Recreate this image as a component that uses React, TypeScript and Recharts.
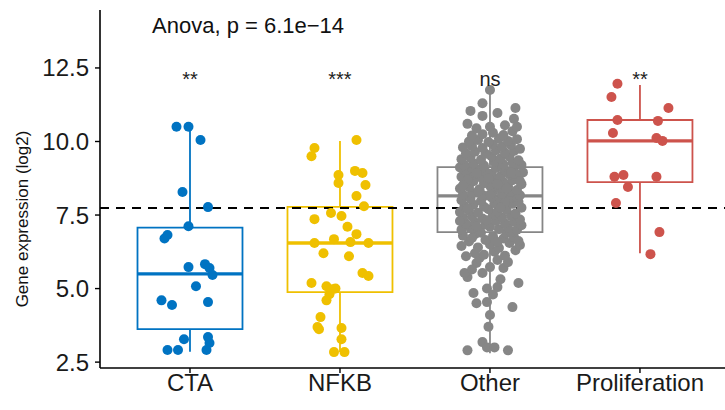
import React from "react";
import { ScatterChart, Scatter, XAxis, YAxis, ReferenceArea, ReferenceLine } from "recharts";

const categories = ["CTA", "NFKB", "Other", "Proliferation"];
const colors = ["#0073C2", "#EFC000", "#868686", "#CD534C"];

// box statistics per group
const q1 = [3.62, 4.88, 6.92, 8.62];
const median = [5.5, 6.55, 8.15, 10.02];
const q3 = [7.07, 7.78, 9.13, 10.73];
const whiskerLow = [2.85, 2.84, 2.8, 6.2];
const whiskerHigh = [10.5, 10.02, 11.75, 11.92];

const signif = ["**", "***", "ns", "**"];
const anovaLabel = "Anova, p = 6.1e\u221214";
const refLevel = 7.74;
const yTicks = [2.5, 5, 7.5, 10, 12.5];

// jittered points: [x offset from group centre, value]
const ctaPoints = [
  [-0.09, 10.5], [-0.01, 10.5], [0.07, 10.05], [-0.05, 8.28], [0.12, 7.77], [-0.01, 7.12],
  [-0.17, 6.7], [-0.15, 6.82], [-0.01, 5.73], [0.1, 5.83], [0.13, 5.7], [0.15, 5.46],
  [0.04, 5.08], [-0.19, 4.6], [-0.12, 4.44], [0.12, 4.54], [-0.04, 3.28], [0.12, 3.35],
  [0.13, 3.15], [0.11, 2.91], [-0.15, 2.91], [-0.08, 2.91],
];

const nfkbPoints = [
  [-0.17, 9.78], [-0.19, 9.5], [0.11, 10.05], [-0.01, 8.86], [-0.01, 8.59], [0.1, 9.0],
  [0.15, 8.93], [0.17, 8.52], [0.11, 8.15], [0.16, 7.8], [-0.17, 7.36], [-0.06, 7.57],
  [0.01, 7.47], [0.05, 7.1], [0.11, 6.85], [-0.17, 6.55], [-0.04, 6.68], [0.07, 6.58],
  [0.19, 6.55], [-0.11, 6.2], [0.06, 6.1], [0.15, 5.53], [0.19, 5.43], [-0.19, 5.19],
  [-0.09, 5.08], [-0.05, 4.98], [-0.03, 5.0], [-0.07, 4.81], [-0.09, 4.6], [-0.13, 4.03],
  [-0.15, 3.69], [-0.14, 3.62], [0.01, 3.66], [0.01, 3.28], [-0.04, 2.84], [0.03, 2.84],
];

const otherPoints = [
  [-0.15, 2.9], [-0.05, 3.18], [-0.02, 3.0], [0.03, 3.0], [0.12, 2.9], [-0.01, 3.7], [0.0, 4.1],
  [0.15, 4.37], [-0.09, 4.5], [-0.02, 4.54], [-0.11, 4.85], [-0.02, 5.0], [0.05, 5.05], [0.19, 5.19],
  [-0.15, 5.39], [-0.05, 5.53], [0.07, 5.32], [-0.09, 5.87], [0.0, 5.73], [0.09, 5.7], [-0.17, 5.53],
  [0.05, 5.97], [-0.07, 6.04], [0.12, 5.9], [-0.12, 5.65], [0.02, 4.8],
  [-0.16, 6.1], [-0.1, 6.2], [-0.04, 6.15], [0.03, 6.25], [0.1, 6.12], [0.17, 6.3], [-0.19, 6.45],
  [-0.08, 6.4], [0.0, 6.5], [0.06, 6.38], [0.13, 6.55], [0.2, 6.48], [-0.14, 6.6], [-0.03, 6.65],
  [0.09, 6.7], [0.16, 6.75], [-0.18, 6.8], [-0.1, 6.85], [0.02, 6.78], [0.11, 6.88], [0.19, 6.62],
  [-0.06, 6.9], [0.05, 6.58], [-0.12, 6.72], [0.14, 6.92],
  [-0.19, 7.0], [-0.13, 7.05], [-0.07, 6.98], [0.0, 7.1], [0.06, 7.02], [0.12, 7.08], [0.18, 7.0],
  [-0.16, 7.2], [-0.1, 7.25], [-0.03, 7.18], [0.04, 7.3], [0.1, 7.22], [0.16, 7.28], [0.21, 7.15],
  [-0.18, 7.4], [-0.12, 7.45], [-0.05, 7.38], [0.02, 7.5], [0.08, 7.42], [0.14, 7.48], [0.2, 7.35],
  [-0.2, 7.6], [-0.14, 7.65], [-0.08, 7.58], [-0.01, 7.7], [0.05, 7.62], [0.11, 7.68], [0.17, 7.55],
  [-0.17, 7.8], [-0.11, 7.85], [-0.04, 7.78], [0.03, 7.9], [0.09, 7.82], [0.15, 7.88], [0.21, 7.75],
  [-0.19, 8.0], [-0.13, 8.05], [-0.06, 7.98], [0.01, 8.1], [0.07, 8.02], [0.13, 8.08], [0.19, 7.95],
  [-0.15, 7.72], [-0.02, 7.32], [0.1, 7.92], [-0.09, 7.12], [0.07, 7.75], [-0.2, 7.3], [0.18, 8.12],
  [-0.04, 8.14],
  [-0.18, 8.2], [-0.12, 8.25], [-0.05, 8.18], [0.02, 8.3], [0.08, 8.22], [0.14, 8.28], [0.2, 8.17],
  [-0.2, 8.4], [-0.14, 8.45], [-0.07, 8.38], [0.0, 8.5], [0.06, 8.42], [0.12, 8.48], [0.18, 8.35],
  [-0.17, 8.6], [-0.11, 8.65], [-0.04, 8.58], [0.03, 8.7], [0.09, 8.62], [0.15, 8.68], [0.21, 8.55],
  [-0.19, 8.8], [-0.13, 8.85], [-0.06, 8.78], [0.01, 8.9], [0.07, 8.82], [0.13, 8.88], [0.19, 8.75],
  [-0.16, 9.0], [-0.1, 9.05], [-0.03, 8.98], [0.04, 9.1], [0.1, 9.02], [0.16, 9.08], [-0.2, 9.12],
  [0.22, 8.95], [-0.08, 8.3], [0.05, 8.55], [-0.15, 8.7], [0.11, 8.4], [-0.01, 8.75], [0.17, 8.9],
  [-0.12, 9.1], [0.08, 9.12], [-0.18, 8.5], [0.2, 8.65], [-0.06, 9.08], [0.0, 8.2], [0.14, 8.95],
  [-0.09, 8.92],
  [-0.17, 9.2], [-0.11, 9.25], [-0.04, 9.18], [0.03, 9.3], [0.09, 9.22], [0.15, 9.28], [0.21, 9.2],
  [-0.19, 9.4], [-0.13, 9.45], [-0.06, 9.38], [0.01, 9.5], [0.07, 9.42], [0.13, 9.48], [0.19, 9.36],
  [-0.16, 9.6], [-0.1, 9.65], [-0.03, 9.58], [0.04, 9.7], [0.1, 9.62], [0.16, 9.68], [-0.18, 9.8],
  [-0.12, 9.85], [-0.05, 9.78], [0.02, 9.9], [0.08, 9.82], [0.14, 9.88], [0.2, 9.75], [-0.14, 10.0],
  [-0.08, 10.05], [-0.01, 9.98], [0.06, 10.1], [0.12, 10.02], [0.18, 10.08], [-0.12, 10.2],
  [-0.05, 10.25], [0.02, 10.3], [0.09, 10.22], [0.15, 10.35], [-0.09, 10.45], [0.0, 10.5],
  [0.1, 10.55], [0.18, 10.5], [0.16, 10.77], [-0.05, 10.87], [0.05, 10.97], [-0.13, 11.04],
  [0.17, 11.14], [-0.05, 11.3], [0.0, 11.75], [-0.15, 10.6],
];

const prolifPoints = [
  [-0.15, 11.96], [-0.19, 11.51], [0.19, 11.14], [-0.15, 10.73], [0.12, 10.7], [-0.18, 10.29],
  [0.11, 10.12], [0.15, 10.02], [-0.17, 8.8], [-0.11, 8.86], [0.11, 8.8], [-0.08, 8.45],
  [-0.16, 7.91], [0.13, 6.92], [0.07, 6.17],
];

const groups = [ctaPoints, nfkbPoints, otherPoints, prolifPoints];
const boxHalf = 0.35;
const font = "'Liberation Sans', Arial, sans-serif";

const sigData = categories.map((c, i) => ({ x: i + 1, y: 11.87, t: signif[i] }));
const anovaData = [{ x: 0.747, y: 13.69, t: anovaLabel }];

export default function App() {
  return (
    <div style={{ position: "absolute", left: 0, top: 0, background: "#fff" }}>
      <ScatterChart width={725} height={410} margin={{ top: 10, right: 0, bottom: 0, left: 0 }}>
        <XAxis
          type="number"
          dataKey="x"
          domain={[0.4, 4.567]}
          ticks={[1, 2, 3, 4]}
          tickFormatter={(v) => categories[Math.round(v) - 1]}
          height={42}
          allowDataOverflow
          axisLine={{ stroke: "#000", strokeWidth: 1.6 }}
          tickLine={{ stroke: "#000", strokeWidth: 1.4 }}
          tickSize={5}
          tickMargin={1}
          tick={{ fill: "#1a1a1a", fontSize: 24, fontFamily: font }}
        />
        <YAxis
          type="number"
          dataKey="y"
          domain={[2.3, 14.47]}
          ticks={yTicks}
          tickFormatter={(v) => v.toFixed(1)}
          width={100}
          allowDataOverflow
          axisLine={{ stroke: "#000", strokeWidth: 1.6 }}
          tickLine={{ stroke: "#000", strokeWidth: 1.4 }}
          tickSize={5}
          tickMargin={6}
          tick={{ fill: "#1a1a1a", fontSize: 24, fontFamily: font }}
          label={{
            content: () => (
              <text
                x={22}
                y={219}
                transform="rotate(-90 22 219)"
                textAnchor="middle"
                dominantBaseline="central"
                fontSize={17}
                fontFamily={font}
                fill="#111"
              >
                Gene expression (log2)
              </text>
            ),
          }}
        />
        {categories.map((c, i) => (
          <ReferenceLine
            key={"wl" + c}
            segment={[{ x: i + 1, y: whiskerLow[i] }, { x: i + 1, y: q1[i] }]}
            stroke={colors[i]}
            strokeWidth={1.8}
          />
        ))}
        {categories.map((c, i) => (
          <ReferenceLine
            key={"wh" + c}
            segment={[{ x: i + 1, y: q3[i] }, { x: i + 1, y: whiskerHigh[i] }]}
            stroke={colors[i]}
            strokeWidth={1.8}
          />
        ))}
        {categories.map((c, i) => (
          <ReferenceArea
            key={"box" + c}
            x1={i + 1 - boxHalf}
            x2={i + 1 + boxHalf}
            y1={q1[i]}
            y2={q3[i]}
            fill="#fff"
            fillOpacity={1}
            stroke={colors[i]}
            strokeWidth={1.8}
          />
        ))}
        {categories.map((c, i) => (
          <ReferenceLine
            key={"med" + c}
            segment={[{ x: i + 1 - boxHalf, y: median[i] }, { x: i + 1 + boxHalf, y: median[i] }]}
            stroke={colors[i]}
            strokeWidth={3.4}
          />
        ))}
        {groups.map((pts, i) => (
          <Scatter
            key={"pts" + i}
            data={pts.map(([dx, y]) => ({ x: i + 1 + dx, y }))}
            isAnimationActive={false}
            shape={(p: any) => <circle cx={p.cx} cy={p.cy} r={5} fill={colors[i]} />}
          />
        ))}
        <ReferenceLine y={refLevel} stroke="#000" strokeWidth={2} strokeDasharray="9 7" />
        <Scatter
          data={sigData}
          isAnimationActive={false}
          shape={(p: any) => (
            <text x={p.cx} y={p.cy} textAnchor="middle" fontSize={20} fontFamily={font} fill="#222">
              {p.payload.t}
            </text>
          )}
        />
        <Scatter
          data={anovaData}
          isAnimationActive={false}
          shape={(p: any) => (
            <text x={p.cx} y={p.cy} textAnchor="start" fontSize={22} fontFamily={font} fill="#111">
              {p.payload.t}
            </text>
          )}
        />
      </ScatterChart>
    </div>
  );
}
